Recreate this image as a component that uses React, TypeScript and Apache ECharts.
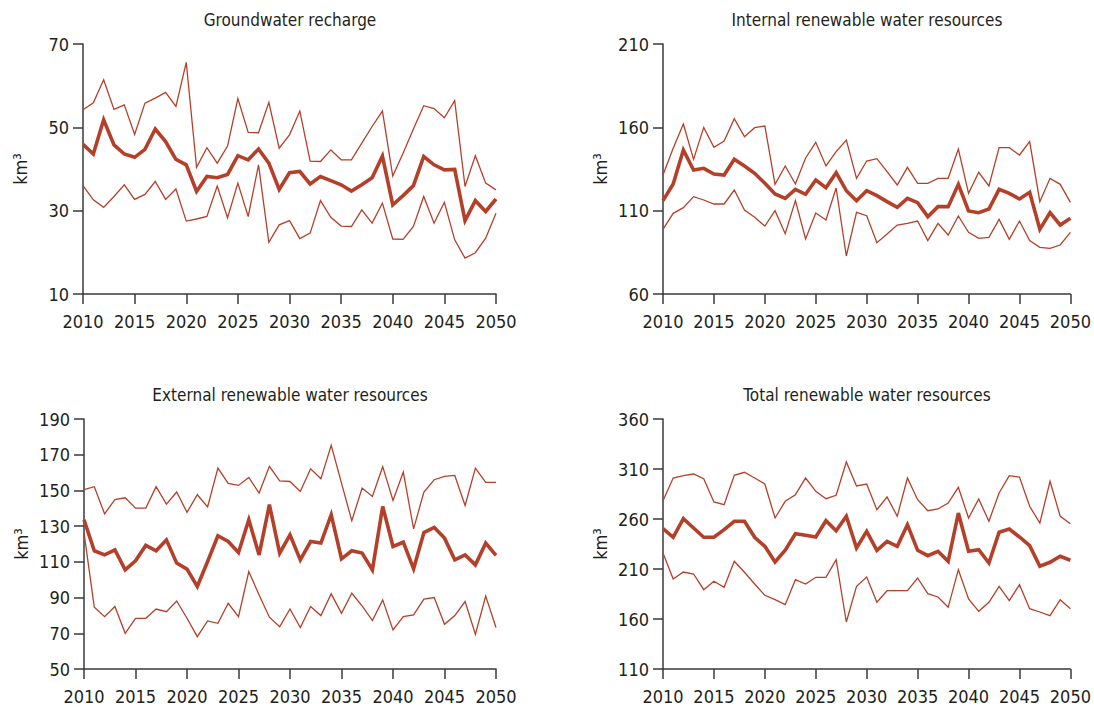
import React, { useEffect, useRef } from "react";
import * as echarts from "echarts";

const years = [2010, 2011, 2012, 2013, 2014, 2015, 2016, 2017, 2018, 2019, 2020, 2021, 2022, 2023, 2024, 2025, 2026, 2027, 2028, 2029, 2030, 2031, 2032, 2033, 2034, 2035, 2036, 2037, 2038, 2039, 2040, 2041, 2042, 2043, 2044, 2045, 2046, 2047, 2048, 2049, 2050];

const titles = ["Groundwater recharge", "Internal renewable water resources", "External renewable water resources", "Total renewable water resources"];

const gwUpper = [54.2, 55.9, 61.4, 54.3, 55.4, 48.3, 55.8, 57.0, 58.4, 55.0, 65.6, 40.4, 45.1, 41.4, 45.5, 56.9, 48.8, 48.7, 56.0, 45.0, 48.2, 53.9, 41.9, 41.8, 44.6, 42.2, 42.2, 46.2, 50.2, 53.9, 38.3, 43.8, 49.6, 55.2, 54.5, 52.3, 56.4, 35.8, 43.2, 36.6, 35.0];
const gwMean = [45.9, 43.6, 51.8, 45.8, 43.6, 42.8, 44.7, 49.6, 46.6, 42.3, 41.0, 34.6, 38.2, 37.9, 38.7, 43.2, 42.2, 44.8, 41.4, 35.1, 39.1, 39.4, 36.4, 38.2, 37.2, 36.2, 34.7, 36.2, 37.9, 43.1, 31.4, 33.6, 36.0, 43.0, 41.0, 39.8, 39.9, 27.6, 32.4, 29.8, 32.8];
const gwLower = [36.0, 32.6, 30.8, 33.4, 36.2, 32.7, 33.9, 37.0, 32.7, 35.2, 27.5, 28.0, 28.6, 35.9, 28.3, 36.6, 28.6, 41.0, 22.4, 26.6, 27.6, 23.3, 24.6, 32.4, 28.4, 26.3, 26.2, 30.2, 27.0, 31.8, 23.2, 23.1, 26.2, 33.4, 27.0, 32.0, 23.0, 18.6, 19.9, 23.4, 29.4];

const intUpper = [131.4, 147.4, 162.0, 140.8, 160.0, 148.0, 151.8, 165.2, 154.4, 159.8, 160.8, 125.8, 136.8, 126.0, 141.6, 151.0, 136.8, 145.4, 152.4, 129.4, 139.8, 141.2, 133.4, 125.4, 136.0, 126.4, 126.4, 129.4, 129.4, 147.0, 120.4, 133.0, 124.8, 147.8, 147.8, 143.4, 151.4, 115.4, 129.4, 125.8, 115.0];
const intMean = [116.0, 126.0, 146.4, 134.4, 135.4, 132.0, 131.4, 140.8, 136.8, 132.4, 126.4, 120.0, 117.4, 122.8, 119.8, 128.4, 123.8, 132.8, 122.0, 116.0, 122.0, 119.0, 115.4, 112.0, 117.4, 114.8, 106.4, 112.4, 112.4, 125.8, 109.8, 108.8, 111.0, 122.8, 120.4, 117.0, 121.0, 98.8, 108.8, 101.4, 105.4];
const intLower = [98.8, 108.4, 111.8, 118.4, 116.4, 114.0, 114.0, 122.4, 110.4, 106.0, 100.8, 110.0, 96.2, 116.0, 93.0, 108.6, 104.4, 123.6, 82.8, 109.0, 107.0, 90.8, 96.0, 101.4, 102.4, 103.8, 92.0, 102.4, 95.4, 106.8, 97.0, 93.4, 94.0, 104.8, 92.8, 103.8, 92.0, 88.0, 87.4, 89.4, 97.0];

const extUpper = [150.4, 152.1, 136.9, 144.8, 145.9, 140.1, 140.1, 152.1, 142.3, 149.1, 137.7, 147.6, 140.8, 162.5, 153.9, 152.8, 157.3, 148.5, 163.5, 155.4, 155.0, 149.4, 162.1, 156.5, 175.2, 154.1, 133.0, 151.3, 146.6, 163.3, 144.4, 160.3, 128.5, 149.1, 156.0, 157.9, 158.4, 141.6, 162.5, 154.5, 154.5];
const extMean = [133.6, 116.2, 113.9, 116.7, 105.5, 110.6, 119.2, 116.2, 122.3, 109.3, 105.9, 96.2, 110.2, 124.6, 121.4, 115.2, 133.6, 113.9, 142.0, 114.9, 125.1, 111.1, 121.4, 120.5, 136.4, 111.7, 116.2, 114.9, 105.5, 141.0, 118.6, 121.0, 106.1, 126.4, 129.3, 123.3, 111.1, 113.9, 108.3, 120.5, 113.6];
const extLower = [126.4, 84.6, 79.3, 85.0, 70.0, 78.4, 78.4, 83.6, 82.1, 88.1, 78.4, 68.1, 76.9, 75.6, 86.8, 79.3, 104.6, 91.5, 79.0, 73.7, 83.6, 73.2, 85.0, 79.9, 92.1, 81.2, 92.4, 85.3, 77.1, 88.7, 71.9, 79.3, 80.3, 89.1, 90.0, 75.0, 79.9, 87.8, 69.4, 90.9, 73.2];

const totUpper = [278.3, 301.0, 303.3, 305.0, 300.3, 277.0, 274.3, 303.7, 306.7, 301.0, 295.0, 261.0, 277.7, 284.3, 301.0, 287.7, 280.3, 283.7, 317.0, 293.0, 295.0, 269.3, 282.0, 262.7, 301.0, 279.3, 268.3, 270.0, 276.0, 291.7, 261.0, 280.0, 257.7, 286.0, 303.3, 302.0, 272.7, 256.0, 297.7, 262.7, 255.3];
const totMean = [250.3, 241.7, 260.3, 251.0, 241.7, 241.7, 249.3, 257.7, 257.7, 241.7, 232.7, 217.0, 228.7, 245.3, 243.7, 242.0, 258.3, 248.3, 262.7, 231.0, 247.7, 228.7, 237.7, 232.7, 254.3, 228.7, 223.3, 227.7, 217.7, 266.0, 227.7, 229.3, 216.0, 246.7, 250.0, 242.0, 233.3, 212.7, 216.7, 222.7, 218.7];
const totLower = [226.0, 200.0, 207.0, 205.0, 189.3, 197.7, 191.7, 217.7, 206.7, 195.0, 183.7, 179.3, 174.3, 199.3, 195.0, 201.7, 201.7, 219.3, 157.0, 192.7, 202.0, 176.7, 188.3, 188.3, 188.3, 201.0, 185.3, 182.0, 171.7, 209.3, 180.0, 167.7, 176.7, 192.7, 178.3, 194.3, 170.3, 167.0, 163.3, 179.3, 170.3];

// y-axis ranges [min, max, interval]
const yRanges = [
  [10, 70, 20],
  [60, 210, 50],
  [50, 190, 20],
  [110, 360, 50],
];

const panels = [
  [gwUpper, gwMean, gwLower],
  [intUpper, intMean, intLower],
  [extUpper, extMean, extLower],
  [totUpper, totMean, totLower],
];

const FONT = "'Liberation Sans Narrow', 'DejaVu Sans Condensed', 'Noto Sans', sans-serif";
const LINE = "#b5402a";
const AXIS = "#3a3a3a";
const TEXT = "#231f20";

export default function App() {
  const ref = useRef<HTMLDivElement>(null);

  useEffect(() => {
    if (!ref.current) return;
    const chart = echarts.init(ref.current, null, { renderer: "svg" });

    const grids = [
      { left: 83, top: 44, width: 413, height: 250 },
      { left: 663, top: 44, width: 408, height: 250 },
      { left: 84, top: 419, width: 412, height: 250 },
      { left: 663, top: 419, width: 408, height: 250 },
    ];
    const titlePos = [
      { left: 290, top: 11 },
      { left: 867, top: 11 },
      { left: 290, top: 386 },
      { left: 867, top: 386 },
    ];

    const series: any[] = [];
    panels.forEach((p, gi) => {
      p.forEach((vals, si) => {
        series.push({
          type: "line",
          xAxisIndex: gi,
          yAxisIndex: gi,
          data: years.map((y, i) => [y, vals[i]]),
          showSymbol: false,
          symbol: "none",
          lineStyle: { color: LINE, width: si === 1 ? 3.6 : 1.3, join: "miter" },
          z: si === 1 ? 3 : 2,
        });
      });
    });

    const option: any = {
      animation: false,
      backgroundColor: "#ffffff",
      textStyle: { fontFamily: FONT },
      title: titles.map((t, i) => ({
        text: t,
        left: titlePos[i].left,
        top: titlePos[i].top,
        textAlign: "center",
        padding: 0,
        textStyle: { fontFamily: FONT, fontSize: 17, fontWeight: "normal", color: TEXT },
      })),
      grid: grids,
      xAxis: grids.map((_, i) => ({
        type: "value",
        gridIndex: i,
        min: 2010,
        max: 2050,
        interval: 5,
        axisLine: { show: true, lineStyle: { color: AXIS, width: 1.5 } },
        axisTick: { show: true, length: 10, inside: false, lineStyle: { color: AXIS, width: 1.5 } },
        axisLabel: {
          margin: 18,
          fontFamily: FONT,
          fontSize: 18,
          color: TEXT,
          formatter: (v: number) => String(v),
        },
        splitLine: { show: false },
      })),
      yAxis: yRanges.map((r, i) => ({
        type: "value",
        gridIndex: i,
        min: r[0],
        max: r[1],
        interval: r[2],
        name: "km³",
        nameLocation: "middle",
        nameRotate: 90,
        nameGap: 54,
        nameTextStyle: { fontFamily: FONT, fontSize: 18, color: TEXT },
        axisLine: { show: true, lineStyle: { color: AXIS, width: 1.5 } },
        axisTick: { show: true, length: 10, inside: false, lineStyle: { color: AXIS, width: 1.5 } },
        axisLabel: { margin: 14, fontFamily: FONT, fontSize: 18, color: TEXT },
        splitLine: { show: false },
      })),
      series,
    };

    chart.setOption(option);
    return () => chart.dispose();
  }, []);

  return (
    <div
      ref={ref}
      style={{ position: "fixed", left: 0, top: 0, width: 1094, height: 711, background: "#fff" }}
    />
  );
}
